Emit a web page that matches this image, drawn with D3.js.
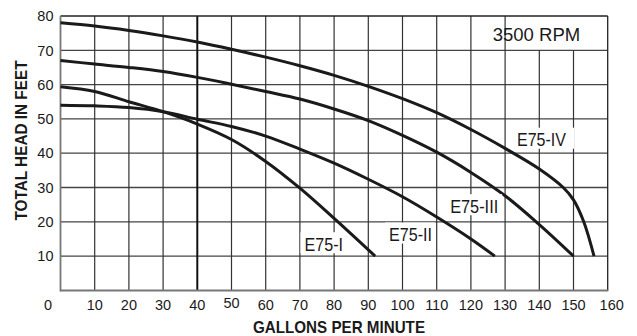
<!DOCTYPE html>
<html>
<head>
<meta charset="utf-8">
<script src="https://cdn.jsdelivr.net/npm/d3@7"></script>
<style>
  html, body { margin: 0; padding: 0; background: #fff; }
  svg { display: block; }
  text { font-family: "Liberation Sans", Arial, sans-serif; fill: #1a1a1a; }
</style>
</head>
<body>
<svg id="chart" width="637" height="336"></svg>
<script>
// ---------- data ----------
const flowTicks = [0, 10, 20, 30, 40, 50, 60, 70, 80, 90, 100, 110, 120, 130, 140, 150, 160];
const headTicks = [10, 20, 30, 40, 50, 60, 70, 80];

const seriesNames = ["E75-I", "E75-II", "E75-III", "E75-IV"];

const e75I_flow  = [0, 10, 20, 30, 40, 50, 60, 70, 80, 92];
const e75I_head  = [59.4, 58.0, 55.0, 52.1, 48.5, 44.0, 37.6, 29.8, 21.0, 10];

const e75II_flow = [0, 10, 20, 30, 40, 50, 60, 70, 80, 90, 100, 110, 120, 127];
const e75II_head = [54.0, 53.8, 53.3, 52.1, 49.9, 47.8, 45.0, 41.2, 37.1, 32.4, 27.3, 21.4, 15.0, 10];

const e75III_flow = [0, 10, 20, 30, 40, 50, 60, 70, 80, 90, 100, 110, 120, 130, 140, 150];
const e75III_head = [67.0, 66.0, 65.0, 63.8, 62.1, 60.1, 58.0, 55.8, 52.9, 49.5, 45.2, 40.3, 34.4, 27.6, 19.2, 10];

const e75IV_flow = [0, 10, 20, 30, 40, 50, 60, 70, 80, 90, 100, 110, 120, 130, 140, 147, 150, 153, 156];
const e75IV_head = [78.0, 77.1, 75.8, 74.2, 72.4, 70.3, 68.0, 65.5, 62.7, 59.5, 55.9, 51.8, 46.9, 41.4, 35.4, 30.0, 26.4, 20.0, 10];

const rpmLabel = "3500 RPM";
const xTitle = "GALLONS PER MINUTE";
const yTitle = "TOTAL HEAD IN FEET";

// ---------- layout ----------
(function () {
const svg = d3.select("#chart");
const pL = 60.5, pR = 607.7, pT = 16, pB = 290.4;

const x = d3.scaleLinear().domain([0, 160]).range([pL, pR]);
const y = d3.scaleLinear().domain([0, 80]).range([pB, pT]);

const series = [
  { name: seriesNames[0], flow: e75I_flow,   head: e75I_head },
  { name: seriesNames[1], flow: e75II_flow,  head: e75II_head },
  { name: seriesNames[2], flow: e75III_flow, head: e75III_head },
  { name: seriesNames[3], flow: e75IV_flow,  head: e75IV_head }
];

// ---------- grid ----------
const grid = svg.append("g");
grid.selectAll("line.h").data(headTicks.filter(d => d < 80)).join("line")
  .attr("x1", pL).attr("x2", pR)
  .attr("y1", d => y(d)).attr("y2", d => y(d))
  .attr("stroke", "#444").attr("stroke-width", 1.3);
grid.selectAll("line.v").data(flowTicks.filter(d => d > 0 && d < 160)).join("line")
  .attr("x1", d => x(d)).attr("x2", d => x(d))
  .attr("y1", d => (d > 130 ? y(70) : pT)).attr("y2", pB)
  .attr("stroke", d => d === 40 ? "#111" : "#333")
  .attr("stroke-width", d => d === 40 ? 2 : 1.2);

grid.append("line").attr("x1", pL).attr("x2", pR).attr("y1", pT).attr("y2", pT)
  .attr("stroke", "#222").attr("stroke-width", 1.3);
grid.append("line").attr("x1", pR).attr("x2", pR).attr("y1", pT).attr("y2", pB)
  .attr("stroke", "#222").attr("stroke-width", 1.3);
grid.append("line").attr("x1", pL).attr("x2", pL).attr("y1", pT).attr("y2", pB + 1)
  .attr("stroke", "#777").attr("stroke-width", 1.8);
grid.append("line").attr("x1", pL).attr("x2", pR + 0.6).attr("y1", pB).attr("y2", pB)
  .attr("stroke", "#777").attr("stroke-width", 2);

// ---------- curves ----------
const line = d3.line()
  .x(d => x(d[0])).y(d => y(d[1]))
  .curve(d3.curveCatmullRom.alpha(0.5));

svg.append("g").selectAll("path").data(series).join("path")
  .attr("d", s => line(s.flow.map((f, i) => [f, s.head[i]])))
  .attr("fill", "none")
  .attr("stroke", "#1a1a1a")
  .attr("stroke-width", 3)
  .attr("stroke-linecap", "butt")
  .attr("stroke-linejoin", "round");

// ---------- curve labels (with white backgrounds) ----------
const labelFont = 18;
const labelCfg = [
  { text: seriesNames[3], x: 517,   base: 146.2, w: 49,   padL: 4, padR: 8 },
  { text: seriesNames[2], x: 450.2, base: 212.7, w: 48,   padL: 4, padR: 4 },
  { text: seriesNames[1], x: 389,   base: 241,   w: 43,   padL: 4, padR: 3 },
  { text: seriesNames[0], x: 304.5, base: 250.7, w: 38.5, padL: 4, padR: 4 }
];
const lab = svg.append("g");
labelCfg.forEach(c => {
  lab.append("rect")
    .attr("x", c.x - c.padL).attr("y", c.base - 13.5 - 5)
    .attr("width", c.w + c.padL + c.padR).attr("height", 13.5 + 5 + 2.5)
    .attr("fill", "#fff");
  lab.append("text")
    .attr("x", c.x).attr("y", c.base)
    .attr("font-size", labelFont)
    .attr("textLength", c.w).attr("lengthAdjust", "spacingAndGlyphs")
    .attr("fill", "#2a2a2a")
    .text(c.text);
});

svg.append("text")
  .attr("x", 492.7).attr("y", 41)
  .attr("font-size", 19)
  .attr("textLength", 87.5).attr("lengthAdjust", "spacingAndGlyphs")
  .attr("fill", "#2a2a2a")
  .text(rpmLabel);

// ---------- tick labels ----------
svg.append("g").selectAll("text").data(headTicks).join("text")
  .attr("x", 53.5).attr("y", d => y(d)).attr("dy", "0.36em")
  .attr("text-anchor", "end")
  .attr("font-size", 14.5)
  .attr("fill", "#2a2a2a")
  .text(d => d);

svg.append("g").selectAll("text").data(flowTicks).join("text")
  .attr("x", d => d === 0 ? 48 : (d === 160 ? x(d) + 4 : x(d)))
  .attr("y", d => d === 50 ? 307.7 : 310)
  .attr("text-anchor", "middle")
  .attr("font-size", 14.5)
  .attr("fill", "#2a2a2a")
  .text(d => d);

// ---------- axis titles ----------
svg.append("text")
  .attr("x", 339).attr("y", 332.5)
  .attr("text-anchor", "middle")
  .attr("font-size", 17).attr("font-weight", "bold")
  .attr("textLength", 172).attr("lengthAdjust", "spacingAndGlyphs")
  .attr("fill", "#1a1a1a")
  .text(xTitle);

svg.append("text")
  .attr("transform", "translate(26.5,140.5) rotate(-90)")
  .attr("text-anchor", "middle")
  .attr("font-size", 16.5).attr("font-weight", "bold")
  .attr("textLength", 160).attr("lengthAdjust", "spacingAndGlyphs")
  .attr("fill", "#1a1a1a")
  .text(yTitle);
})();
</script>
</body>
</html>
